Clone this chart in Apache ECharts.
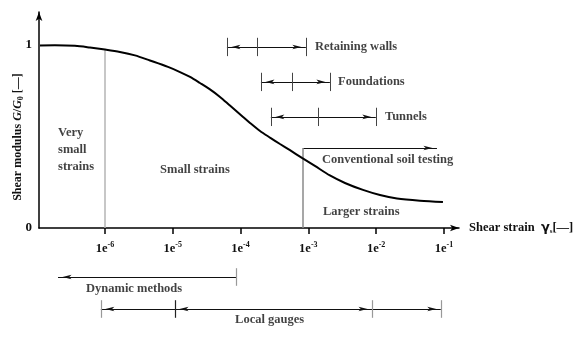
<!DOCTYPE html>
<html><head><meta charset="utf-8">
<script src="https://cdn.jsdelivr.net/npm/echarts@6/dist/echarts.min.js"></script>
<style>html,body{margin:0;padding:0;background:#fff}#c{width:588px;height:338px}</style>
</head><body><div id="c"></div>
<script>
// ---- data ----
const strain  = [1.10e-7, 1.83e-7, 3.61e-7, 6.01e-7, 1.0e-6, 1.66e-6, 2.77e-6, 4.61e-6, 8.51e-6, 1.28e-5, 1.80e-5, 2.52e-5, 3.54e-5, 4.98e-5, 6.98e-5, 1.09e-4, 1.38e-4, 1.94e-4, 2.72e-4, 3.82e-4, 5.36e-4, 8.05e-4, 1.25e-3, 2.08e-3, 3.47e-3, 6.40e-3, 1.14e-2, 2.03e-2, 4.43e-2, 9.68e-2];
const modulus = [0.997, 0.998, 0.995, 0.986, 0.975, 0.962, 0.943, 0.915, 0.880, 0.852, 0.825, 0.792, 0.757, 0.716, 0.669, 0.607, 0.574, 0.530, 0.494, 0.459, 0.425, 0.383, 0.339, 0.287, 0.246, 0.208, 0.180, 0.161, 0.149, 0.142];
const xTickValues = [1e-6, 1e-5, 1e-4, 1e-3, 1e-2, 1e-1];
const yTickValues = [0, 1];
const rangeNames = ['Retaining walls', 'Foundations', 'Tunnels'];
const retainingWalls = [6.3e-5, 1.75e-4, 9.2e-4];
const foundations = [2.0e-4, 5.7e-4, 2.08e-3];
const tunnels = [2.8e-4, 1.39e-3, 9.9e-3];
const rangeLevels = [0.989, 0.798, 0.607];
const rangeLabelX = [1.25e-3, 2.74e-3, 1.35e-2];
const conventional = [8.3e-4, 7.9e-2];
const conventionalLevel = 0.437;
const verySmallLimit = 1e-6;
const verySmallTop = 0.975;
const regionLabels = [
  [2.03e-7, 0.426, 'Very\nsmall\nstrains'],
  [6.5e-6, 0.317, 'Small strains'],
  [1.64e-3, 0.087, 'Larger strains'],
  [1.59e-3, 0.372, 'Conventional soil testing']
];
const dynamicMethods = [8.6e-5, 2.03e-7];
const dynamicLevel = 0.7625;
const localGauges = [8.7e-7, 1.08e-5, 8.7e-3, 9.0e-2];
const localLevel = 0.3625;
const bottomLabels = [
  [5.25e-7, 0.6125, 'Dynamic methods'],
  [8.3e-5, 0.225, 'Local gauges']
];

// ---- styling helpers ----
const FONT = 'Liberation Serif';
const TXT = '#111';
const xMin = 1.064e-7, xMax = 0.167;
const barHalfMain = 0.05, barHalfBottom = 0.11;
const ARROW = {symbol: 'arrow', symbolSize: [3.5, 9], symbolOffset: [0, '50%']};
const NONE = {symbol: 'none'};

function seg(x1, y1, x2, y2, s1, s2, color, width) {
  return [
    Object.assign({coord: [x1, y1]}, s1 || NONE),
    Object.assign({coord: [x2, y2], lineStyle: {color: color || '#111', width: width || 1.2, type: 'solid'}}, s2 || NONE)
  ];
}

const mainLines = [];
[retainingWalls, foundations, tunnels].forEach((r, i) => {
  const y = rangeLevels[i];
  mainLines.push(seg(r[0], y, r[2], y, ARROW, ARROW));
  r.forEach(x => mainLines.push(seg(x, y - barHalfMain, x, y + barHalfMain, NONE, NONE, '#444', 1)));
});
mainLines.push(seg(conventional[0], conventionalLevel, conventional[1], conventionalLevel, NONE, ARROW));
mainLines.push(seg(conventional[0], 0, conventional[0], conventionalLevel, NONE, NONE, '#8a8a8a', 1.5));
mainLines.push(seg(verySmallLimit, 0, verySmallLimit, verySmallTop, NONE, NONE, '#b5b5b5', 1.5));

const bottomLines = [];
bottomLines.push(seg(dynamicMethods[0], dynamicLevel, dynamicMethods[1], dynamicLevel, NONE, ARROW));
bottomLines.push(seg(dynamicMethods[0], dynamicLevel - barHalfBottom, dynamicMethods[0], dynamicLevel + barHalfBottom, NONE, NONE, '#999', 1.2));
bottomLines.push(seg(localGauges[1], localLevel, localGauges[0], localLevel, NONE, ARROW));
bottomLines.push(seg(localGauges[1], localLevel, localGauges[2], localLevel, ARROW, ARROW));
bottomLines.push(seg(localGauges[2], localLevel, localGauges[3], localLevel, NONE, ARROW));
localGauges.forEach((x, i) => bottomLines.push(seg(x, localLevel - barHalfBottom, x, localLevel + barHalfBottom, NONE, NONE, i === 1 ? '#222' : '#999', 1.2)));

const labelStyle = {fontFamily: FONT, fontSize: 12.5, fontWeight: 'bold', color: TXT};
const mainLabelData = regionLabels.concat(rangeNames.map((n, i) => [rangeLabelX[i], rangeLevels[i], n]));

const chart = echarts.init(document.getElementById('c'), null, {renderer: 'canvas'});
chart.setOption({
  animation: false,
  backgroundColor: '#fff',
  grid: [
    {left: 39, right: 129, top: 12, bottom: 110, outerBoundsMode: 'none', containLabel: false},
    {left: 39, right: 129, top: 258, height: 80, outerBoundsMode: 'none', containLabel: false}
  ],
  xAxis: [{
    type: 'log', gridIndex: 0, min: xMin, max: xMax, logBase: 10,
    name: 'Shear strain  {g|γ}{sub|s}[—]', nameLocation: 'end', nameGap: 10,
    nameTextStyle: {fontFamily: FONT, fontSize: 12.5, fontWeight: 'bold', color: TXT, align: 'left', verticalAlign: 'middle',
      rich: {g: {fontFamily: 'DejaVu Sans', fontWeight: 'bold', fontSize: 13, color: TXT}, sub: {fontFamily: FONT, fontSize: 7, fontWeight: 'bold', color: TXT, verticalAlign: 'bottom', padding: [6, 0, 0, 0]}}},
    axisLine: {show: true, lineStyle: {color: '#000', width: 1.5}, symbol: ['none', 'arrow'], symbolSize: [5, 9]},
    axisTick: {show: true, inside: false, length: 6, lineStyle: {color: '#000', width: 1.5}, customValues: xTickValues},
    axisLabel: {show: true, margin: 13, customValues: xTickValues,
      formatter: v => '{b|1e}{s|' + Math.round(Math.log10(v)) + '}',
      rich: {b: {fontFamily: FONT, fontSize: 12.5, fontWeight: 'bold', color: TXT, verticalAlign: 'bottom', lineHeight: 14},
             s: {fontFamily: FONT, fontSize: 8, fontWeight: 'bold', color: TXT, verticalAlign: 'top', lineHeight: 14, padding: [0, 0, 5, 0]}}},
    splitLine: {show: false}, minorTick: {show: false}, minorSplitLine: {show: false}
  }, {
    type: 'log', gridIndex: 1, min: xMin, max: xMax, logBase: 10, show: false
  }],
  yAxis: [{
    type: 'value', gridIndex: 0, min: 0, max: 1.18,
    axisLine: {show: true, onZero: false, lineStyle: {color: '#000', width: 1.5}, symbol: ['none', 'arrow'], symbolSize: [5, 9]},
    axisTick: {show: false},
    axisLabel: {show: true, margin: 7, customValues: yTickValues, fontFamily: FONT, fontSize: 13, fontWeight: 'bold', color: TXT},
    splitLine: {show: false}
  }, {
    type: 'value', gridIndex: 1, min: 0, max: 1, show: false
  }],
  graphic: [{
    type: 'text', x: 18, y: 137, rotation: Math.PI / 2,
    style: {
      text: 'Shear modulus {i|G}/{i|G}{sub|0} [—]',
      fontFamily: FONT, fontSize: 12, fontWeight: 'bold', fill: TXT, align: 'center', verticalAlign: 'middle',
      rich: {i: {fontFamily: FONT, fontStyle: 'italic', fontWeight: 'bold', fontSize: 12, fill: TXT},
             sub: {fontFamily: FONT, fontSize: 8, fontWeight: 'bold', fill: TXT, verticalAlign: 'bottom', padding: [6, 0, 0, 0]}}
    }
  }],
  series: [{
    type: 'line', xAxisIndex: 0, yAxisIndex: 0,
    data: strain.map((s, i) => [s, modulus[i]]),
    smooth: 0.3, showSymbol: false, symbol: 'none',
    lineStyle: {color: '#000', width: 2}, z: 5, silent: true
  }, {
    type: 'line', xAxisIndex: 0, yAxisIndex: 0, data: [], silent: true,
    markLine: {silent: true, animation: false, symbol: 'none', label: {show: false}, emphasis: {disabled: true},
      lineStyle: {color: '#111', width: 1.2, type: 'solid'}, data: mainLines}
  }, {
    type: 'scatter', xAxisIndex: 0, yAxisIndex: 0, symbolSize: 0, silent: true,
    data: mainLabelData,
    label: Object.assign({show: true, position: 'right', distance: 0, align: 'left', lineHeight: 17, formatter: p => p.data[2]}, labelStyle)
  }, {
    type: 'line', xAxisIndex: 1, yAxisIndex: 1, data: [], silent: true,
    markLine: {silent: true, animation: false, symbol: 'none', label: {show: false}, emphasis: {disabled: true},
      lineStyle: {color: '#111', width: 1.2, type: 'solid'}, data: bottomLines}
  }, {
    type: 'scatter', xAxisIndex: 1, yAxisIndex: 1, symbolSize: 0, silent: true,
    data: bottomLabels,
    label: Object.assign({show: true, position: 'right', distance: 0, align: 'left', formatter: p => p.data[2]}, labelStyle)
  }]
});
</script></body></html>
